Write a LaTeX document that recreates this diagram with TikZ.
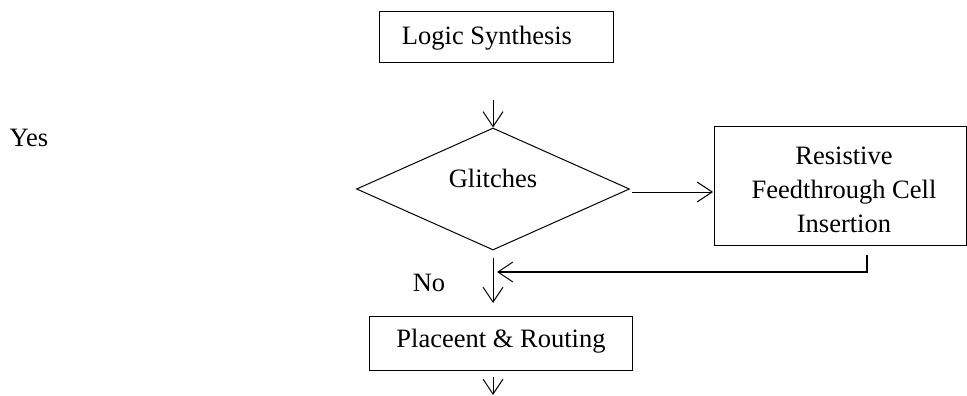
\documentclass[tikz,border=0pt]{standalone}
\usepackage{fontspec}
\setmainfont{Liberation Serif}
\usetikzlibrary{shapes.geometric,arrows.meta}
\begin{document}
\begin{tikzpicture}[x=1pt,y=-1pt,
  box/.style={draw,line width=1pt,rectangle,inner sep=0pt},
  dia/.style={draw,line width=1pt,diamond,inner sep=0pt},
  txt/.style={font=\fontsize{26.5}{34}\selectfont,inner sep=0pt,align=center},
  arr/.style={line width=1pt,-{Straight Barb[length=15pt,width=20pt,line width=1pt]}}]
\useasboundingbox (0,0) rectangle (967,396);
% nodes
\node[box,minimum width=234pt,minimum height=51pt] (ls) at (496,37.5) {};
\node[txt] (lst) at (487,38) {Logic Synthesis};
\node[dia,minimum width=273pt,minimum height=122pt] (gl) at (493,189) {};
\node[txt] (glt) at (493,178) {Glitches};
\node[box,minimum width=252pt,minimum height=119pt] (rf) at (840,185.5) {};
\node[txt] (rft) at (844,190) {Resistive\\Feedthrough Cell\\Insertion};
\node[box,minimum width=263pt,minimum height=54pt] (pr) at (500.5,343) {};
\node[txt] (prt) at (501,341) {Placeent \& Routing};
\node[txt] (no) at (429,283) {No};
\node[txt] (yes) at (29,138) {Yes};
% coordinates
\coordinate (a1) at (493,100);
\coordinate (e1) at (632,192);
\coordinate (e2) at (713,192);
\coordinate (d1) at (493,258);
\coordinate (d2) at (493,303);
\coordinate (r1) at (867,255);
\coordinate (r2) at (497,272);
\coordinate (b1) at (493,377);
\coordinate (b2) at (493,395);
% connectors
\draw[arr] (a1) -- (gl.north);
\draw[arr] (e1) -- (e2);
\draw[arr] (d1) -- (d2);
\draw[arr,line width=1.8pt] (r1) |- (r2);
\draw[arr] (b1) -- (b2);
\end{tikzpicture}
\end{document}
